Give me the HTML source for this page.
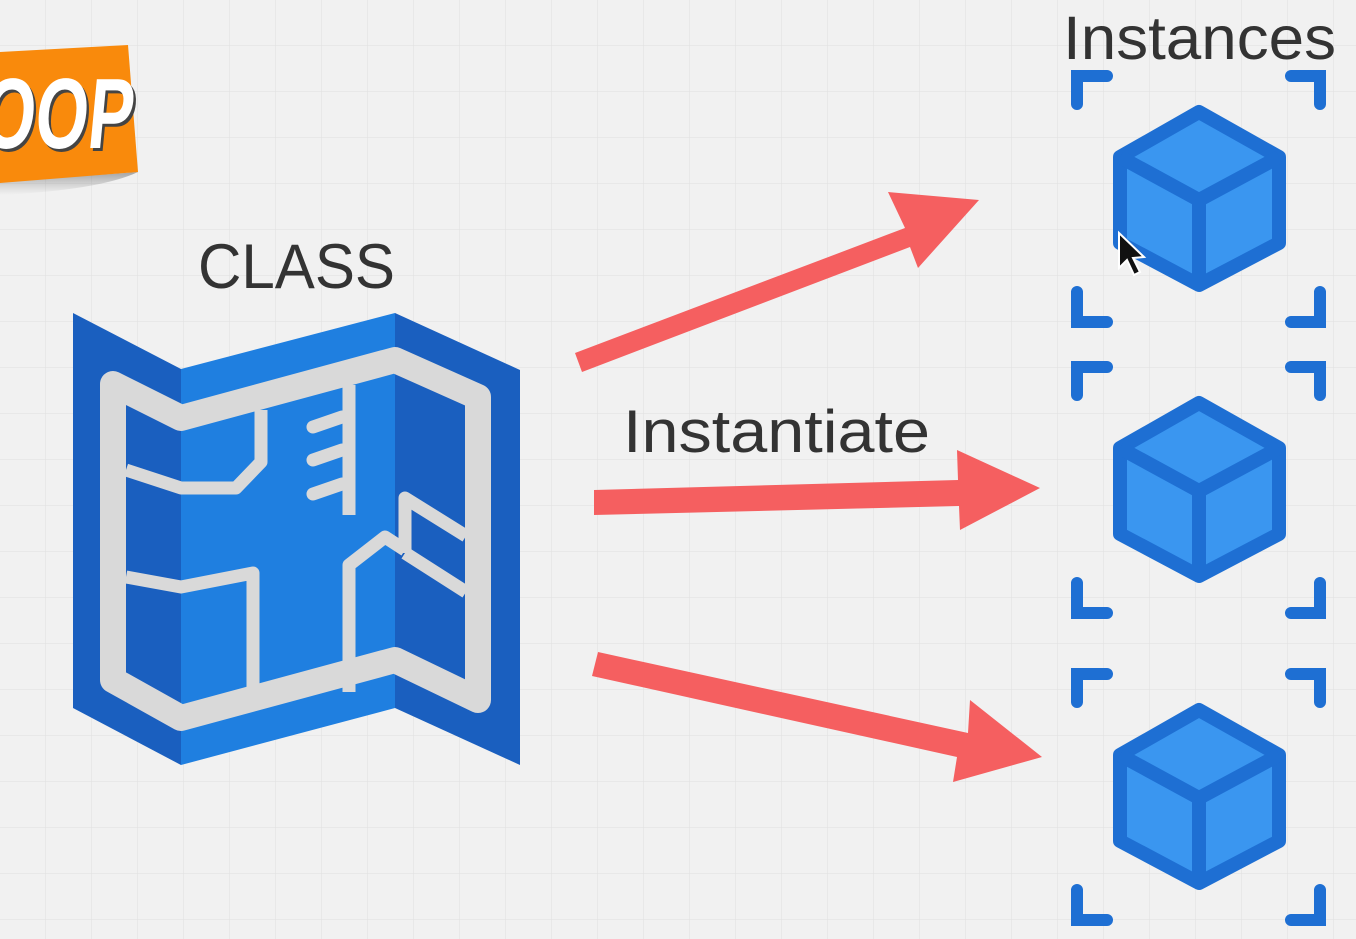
<!DOCTYPE html>
<html><head><meta charset="utf-8"><style>
html,body{margin:0;padding:0;width:1356px;height:939px;overflow:hidden;background:#f1f1f1;}
svg{display:block}
</style></head><body>
<svg width="1356" height="939" viewBox="0 0 1356 939" xmlns="http://www.w3.org/2000/svg">
<defs>
<pattern id="g" width="46" height="46" patternUnits="userSpaceOnUse">
<path d="M46 0V46H0" fill="none" stroke="#e2e2e2" stroke-width="1.2"/>
</pattern>
<linearGradient id="sh" x1="0" y1="0" x2="0" y2="1"><stop offset="0" stop-color="#555" stop-opacity=".5"/><stop offset="1" stop-color="#888" stop-opacity="0"/></linearGradient>
</defs>
<rect width="1356" height="939" fill="#f1f1f1"/>
<rect width="1356" height="939" fill="url(#g)"/>

<!-- OOP badge -->
<path d="M0 182 L138 172 Q100 190 0 195 Z" fill="url(#sh)"/>
<polygon points="0,52 128,45 138,172 0,183" fill="#f98a0c"/>
<g transform="translate(-20,148) scale(0.68,1) skewX(-8)">
<text x="4" y="3" font-family="Liberation Sans, sans-serif" font-weight="bold" font-size="100" fill="#444">OOP</text>
<text x="0" y="0" font-family="Liberation Sans, sans-serif" font-weight="bold" font-size="100" fill="#fff">OOP</text>
</g>

<!-- CLASS label -->
<text x="198" y="288" textLength="197" lengthAdjust="spacingAndGlyphs" font-family="Liberation Sans, sans-serif" font-size="63" fill="#333">CLASS</text>

<!-- Map -->
<polygon points="73,313 181,369 181,765 73,708" fill="#1a5fbf"/>
<polygon points="181,369 395,313 395,708 181,765" fill="#1f7fe0"/>
<polygon points="395,313 520,370 520,765 395,708" fill="#1a5fbf"/>
<g fill="none" stroke="#d9d9d9" stroke-linejoin="round" stroke-linecap="round">
<path d="M113 384 L181 418 L395 360 L478 397 L478 700 L395 660 L181 718 L113 680 Z" stroke-width="26"/>
<path d="M126 470 L181 488 L236 488 L261 462 L261 410" stroke-width="13" stroke-linecap="butt"/>
<path d="M349 385 L349 515" stroke-width="13" stroke-linecap="butt"/>
<path d="M313 427 L342 417 M313 460 L342 450 M313 494 L342 484" stroke-width="13"/>
<path d="M126 577 L181 587 L253 573 L253 705" stroke-width="13" stroke-linecap="butt"/>
<path d="M349 692 L349 565 L385 537 L405 550" stroke-width="13" stroke-linecap="butt"/>
<path d="M405 553 L405 498 L466 536 M405 553 L466 592" stroke-width="13" stroke-linecap="butt"/>
</g>

<!-- Arrows -->
<g fill="#f55f60">
<polygon points="575,353 905,228 888,192 979,200 918,268 910,247 582,372"/>
<polygon points="594,490 958,480 957,450 1040,488 960,530 959,506 594,515"/>
<polygon points="598,652 968,733 970,700 1042,757 953,782 957,757 592,676"/>
</g>

<!-- Instantiate -->
<text x="623" y="452" textLength="307" lengthAdjust="spacingAndGlyphs" font-family="Liberation Sans, sans-serif" font-size="60" fill="#333">Instantiate</text>
<!-- Instances -->
<text x="1063" y="59" textLength="273" lengthAdjust="spacingAndGlyphs" font-family="Liberation Sans, sans-serif" font-size="61" fill="#333">Instances</text>

<!-- Cubes and brackets -->
<g id="c1">
<g fill="none" stroke="#1e6fd3" stroke-width="12" stroke-linecap="round">
<path d="M1077 104 V76 H1107"/>
<path d="M1291 76 H1320 V104"/>
<path d="M1077 292 V322 H1107"/>
<path d="M1291 322 H1320 V292"/>
</g>
<polygon points="1199,112 1279,157 1279,243 1199,285 1120,243 1120,157" fill="#3a96f0" stroke="#1e6fd3" stroke-width="14" stroke-linejoin="round"/>
<path d="M1120 157 L1199 200 L1279 157 M1199 200 V285" fill="none" stroke="#1e6fd3" stroke-width="14"/>
</g>
<use href="#c1" transform="translate(0,291)"/>
<use href="#c1" transform="translate(0,598)"/>

<!-- cursor -->
<path d="M1119 233 L1119 268 L1127 260 L1134 275 L1140 272 L1133 258 L1144 257 Z" fill="#111" stroke="#fff" stroke-width="2"/>
</svg>
</body></html>
